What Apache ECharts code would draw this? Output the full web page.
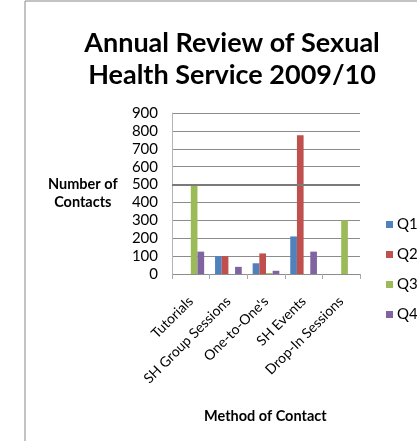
<!DOCTYPE html>
<html>
<head>
<meta charset="utf-8">
<script src="https://cdn.jsdelivr.net/npm/echarts@6/dist/echarts.min.js"></script>
<style>
  html, body { margin: 0; padding: 0; background: #fff; }
  #chart { width: 417px; height: 441px; }
</style>
</head>
<body>
<div id="chart"></div>
<script>
  // 数据
  const categories = ['Tutorials', 'SH Group Sessions', "One-to-One's", 'SH Events', 'Drop-In Sessions'];
  const q1 = [0, 100, 60, 210, 0];
  const q2 = [0, 100, 115, 775, 0];
  const q3 = [500, 0, 5, 0, 300];
  const q4 = [125, 40, 18, 125, 0];
  const yTicks = [0, 100, 200, 300, 400, 500, 600, 700, 800, 900];

  const colors = ['#4F81BD', '#C0504D', '#9BBB59', '#8064A2'];
  const font = 'Lato, "Liberation Sans", sans-serif';

  const chart = echarts.init(document.getElementById('chart'));

  const makeBar = (name, data) => ({
    name: name,
    type: 'bar',
    data: data,
    barGap: '0%',
    barCategoryGap: '29%'
  });

  const option = {
    color: colors,
    animation: false,
    title: {
      text: 'Annual Review of Sexual\nHealth Service 2009/10',
      left: 227,
      top: 22,
      textAlign: 'center',
      textStyle: {
        fontFamily: font,
        fontSize: 27,
        fontWeight: 'bold',
        color: '#000',
        lineHeight: 32
      }
    },
    legend: {
      orient: 'vertical',
      left: 381,
      top: 212,
      itemWidth: 7,
      itemHeight: 7,
      itemGap: 15,
      icon: 'rect',
      data: ['Q1', 'Q2', 'Q3', 'Q4'],
      textStyle: { fontFamily: font, fontSize: 15, color: '#000', padding: [0, 0, 0, -1] }
    },
    grid: { left: 172, right: 57, top: 113, bottom: 167, containLabel: false },
    xAxis: {
      type: 'category',
      data: categories,
      axisLine: { show: false },
      axisTick: { show: true, length: 5, lineStyle: { color: '#aaa' } },
      axisLabel: { rotate: 45, margin: 25, fontFamily: font, fontSize: 14, color: '#000' }
    },
    yAxis: {
      type: 'value',
      min: yTicks[0],
      max: yTicks[yTicks.length - 1],
      interval: 100,
      axisLine: { show: true, lineStyle: { color: '#b4b4b4' } },
      axisTick: { show: false },
      axisLabel: { margin: 14, fontFamily: font, fontSize: 15, color: '#000' },
      splitLine: { lineStyle: { color: '#8c8c8c', width: 1 } }
    },
    graphic: [
      {
        type: 'rect',
        shape: { x: 25, y: 1, width: 500, height: 500 },
        style: { fill: 'none', stroke: '#888', lineWidth: 1 },
        silent: true
      },
      {
        type: 'text',
        left: 48,
        top: 175,
        style: {
          text: 'Number of\nContacts',
          textAlign: 'center',
          fontFamily: font,
          fontSize: 14.5,
          fontWeight: 'bold',
          lineHeight: 18,
          fill: '#000'
        }
      },
      {
        type: 'text',
        left: 204,
        top: 409,
        style: {
          text: 'Method of Contact',
          fontFamily: font,
          fontSize: 14.5,
          fontWeight: 'bold',
          fill: '#000'
        }
      }
    ],
    series: [
      Object.assign(makeBar('Q1', q1), {
        markLine: {
          silent: true,
          symbol: 'none',
          label: { show: false },
          lineStyle: { color: '#7a7a7a', width: 2, type: 'solid' },
          data: [{ yAxis: 500 }]
        }
      }),
      makeBar('Q2', q2),
      makeBar('Q3', q3),
      makeBar('Q4', q4)
    ]
  };

  chart.setOption(option);
</script>
</body>
</html>
